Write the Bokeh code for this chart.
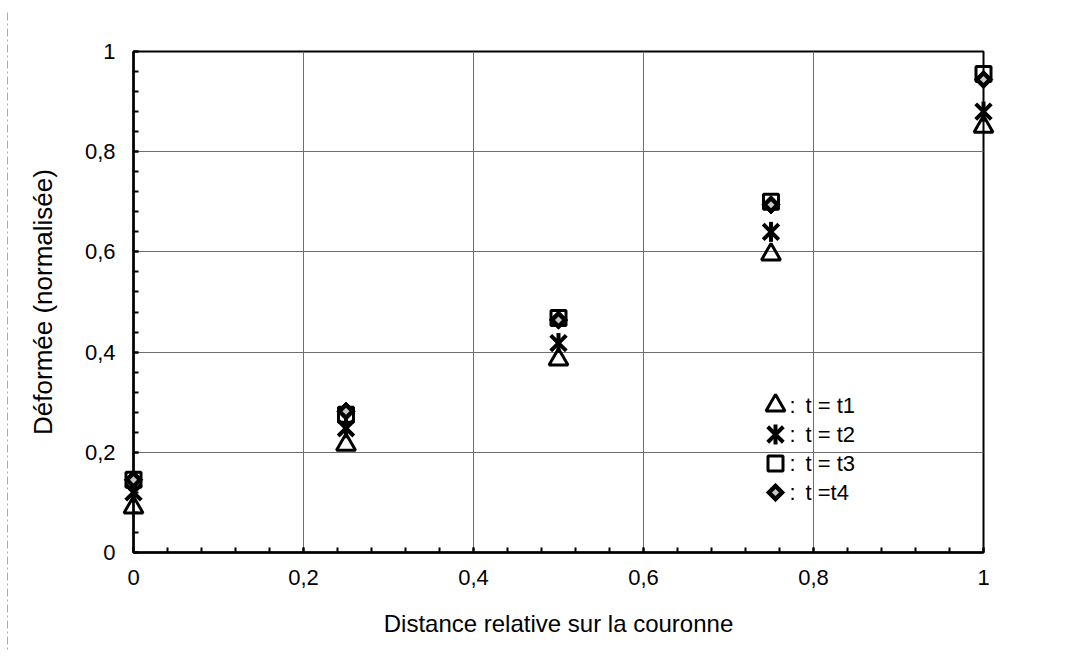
from bokeh.plotting import figure
from bokeh.models import Range1d, FixedTicker, CustomJSTickFormatter
from bokeh.core.properties import value
from bokeh.embed import file_html
from bokeh.resources import INLINE
import math

# ---- data ----
x_pos = [0, 0.25, 0.5, 0.75, 1]
t1 = [0.09, 0.215, 0.385, 0.595, 0.85]
t2 = [0.12, 0.248, 0.418, 0.64, 0.88]
t3 = [0.145, 0.275, 0.468, 0.70, 0.955]
t4 = [0.145, 0.282, 0.464, 0.694, 0.944]
labels = ["t = t1", "t = t2", "t = t3", "t =t4"]
major_ticks = [0, 0.2, 0.4, 0.6, 0.8, 1]
minor_ticks = [round(i * 0.04, 2) for i in range(26)]
x_title = "Distance relative sur la couronne"
y_title = "Déformée (normalisée)"

FONT = "Liberation Sans"
W, H = 1063, 652
FW, FH = 850, 501  # plot frame size in pixels
BL, BT = 133, 51   # frame offset inside the canvas

p = figure(width=W, height=H, output_backend="svg", toolbar_location=None,
           x_range=Range1d(0, 1), y_range=Range1d(0, 1),
           min_border_left=BL, min_border_right=W - BL - FW, min_border_top=BT,
           min_border_bottom=H - BT - FH)
# pixel ranges for placing the legend block and page decorations
p.extra_x_ranges = {"px": Range1d(0, FW)}
p.extra_y_ranges = {"py": Range1d(0, FH)}
lk = dict(x_range_name="px", y_range_name="py")

p.outline_line_color = "black"
p.outline_line_width = 2

fmt = CustomJSTickFormatter(code="return tick.toString().replace('.', ',');")
for ax in (p.xaxis[0], p.yaxis[0]):
    ax.ticker = FixedTicker(ticks=major_ticks, minor_ticks=minor_ticks)
    ax.formatter = fmt
    ax.axis_line_width = 2.5
    ax.axis_line_color = "black"
    ax.major_tick_in = 5
    ax.major_tick_out = 0
    ax.minor_tick_in = 5
    ax.minor_tick_out = 0
    ax.major_tick_line_width = 2
    ax.minor_tick_line_width = 2
    ax.major_label_text_font = FONT
    ax.major_label_text_font_size = "22px"
    ax.major_label_text_color = "black"
    ax.axis_label_text_font = FONT
    ax.axis_label_text_font_style = "normal"
    ax.axis_label_text_color = "black"

p.xaxis[0].major_label_standoff = 17
p.xaxis[0].axis_label_text_font_size = "24px"
p.xaxis[0].axis_label_standoff = 22
p.yaxis[0].major_label_standoff = 18
p.yaxis[0].axis_label_text_font_size = "26px"
p.yaxis[0].axis_label_standoff = 24

p.xaxis.axis_label = x_title
p.yaxis.axis_label = y_title

for g in (p.xgrid[0], p.ygrid[0]):
    g.ticker = FixedTicker(ticks=major_ticks)
    g.grid_line_color = "#6e6e6e"
    g.grid_line_width = 1


def draw_t1(xs, ys, **kw):
    p.scatter(xs, ys, marker="triangle", size=19, fill_color=None,
              line_color="black", line_width=3, level="overlay", **kw)


def draw_t2(xs, ys, **kw):
    p.scatter(xs, ys, marker="x", size=22, line_color="black", line_width=4,
              level="overlay", **kw)
    p.scatter(xs, ys, marker="dash", size=20, angle=math.pi / 2, line_color="black",
              line_width=4, level="overlay", **kw)


def draw_t3(xs, ys, **kw):
    p.scatter(xs, ys, marker="square", size=15, fill_color=None,
              line_color="black", line_width=3, level="overlay", **kw)


def draw_t4(xs, ys, **kw):
    p.scatter(xs, ys, marker="square", size=13, angle=math.pi / 4, fill_color="black",
              line_color="black", line_width=1, level="overlay", **kw)
    p.scatter(xs, ys, marker="square", size=5, angle=math.pi / 4, fill_color="#c8c8c8",
              line_color=None, level="overlay", **kw)


draw_t1(x_pos, t1)
draw_t2(x_pos, t2)
draw_t3(x_pos, t3)
draw_t4(x_pos, t4)

# ---- legend block (pixel coordinates inside the frame) ----
leg_x = 642
leg_rows = [147, 118, 89, 60]
for fn, yy in zip((draw_t1, draw_t2, draw_t3, draw_t4), leg_rows):
    fn([leg_x], [yy], **lk)
p.text([leg_x + 14] * 4, leg_rows, text=[":"] * 4, text_font=value(FONT),
       text_font_size="22px", text_color="black", text_baseline="middle",
       text_align="left", level="overlay", **lk)
p.text([leg_x + 30] * 4, leg_rows, text=labels, text_font=value(FONT),
       text_font_size="22px", text_color="black", text_baseline="middle",
       text_align="left", level="overlay", **lk)

# ---- scanned page edges (decoration) ----
p.segment(x0=[7 - BL], y0=[FH + BT - 12], x1=[7 - BL], y1=[FH + BT - H],
          line_color="#aaaaaa", line_width=1, line_dash="8 3 2 3", level="overlay", **lk)

open("out.html", "w").write(file_html(p, INLINE))
